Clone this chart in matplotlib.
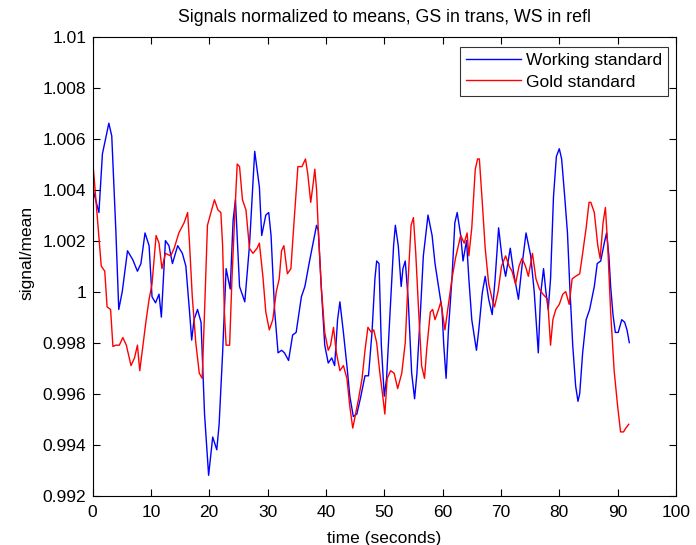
import numpy as np
import matplotlib
matplotlib.use("Agg")
import matplotlib.pyplot as plt
from matplotlib.ticker import FuncFormatter

# working standard (reflection)
ws_time = [0.2, 1.1, 1.7, 2.8, 3.3, 4.0, 4.5, 5.1, 6.0, 6.9, 7.7, 8.3, 9.0, 9.7, 10.2, 10.8,
           11.4, 11.8, 12.5, 13.1, 13.7, 14.6, 15.4, 16.0, 16.6, 17.0, 17.4, 18.0, 18.6, 19.2,
           19.9, 20.6, 21.3, 21.7, 22.3, 22.9, 23.6, 24.1, 24.5, 25.2, 26.1, 26.9, 27.8, 28.6,
           29.0, 29.7, 30.2, 30.6, 31.2, 31.8, 32.4, 32.9, 33.6, 34.3, 34.9, 35.8, 36.4, 37.2,
           37.8, 38.4, 38.7, 39.2, 39.8, 40.4, 41.0, 41.5, 42.0, 42.4, 43.0, 43.6, 44.1, 44.7,
           45.3, 45.9, 46.7, 47.3, 47.9, 48.4, 48.7, 49.1, 49.5, 50.0, 50.4, 51.0, 51.6, 51.9,
           52.4, 52.9, 53.2, 53.6, 54.1, 54.7, 55.2, 55.6, 56.2, 56.7, 57.5, 58.2, 58.7, 59.3,
           59.9, 60.2, 60.6, 61.0, 61.6, 62.1, 62.5, 63.1, 63.5, 64.1, 64.5, 65.0, 65.8, 66.2,
           66.8, 67.3, 67.9, 68.5, 69.0, 69.6, 70.2, 70.8, 71.6, 72.2, 73.0, 73.7, 74.3, 75.1,
           75.7, 76.4, 76.8, 77.3, 77.7, 78.1, 78.5, 79.0, 79.5, 80.0, 80.4, 80.9, 81.4, 81.8,
           82.3, 82.8, 83.2, 83.5, 84.0, 84.6, 85.2, 86.0, 86.5, 87.1, 87.7, 88.1, 88.5, 88.8,
           89.2, 89.6, 90.1, 90.7, 91.2, 91.6, 92.0]
ws_value = [1.0039, 1.0031, 1.0054, 1.0066, 1.0061, 1.0024, 0.9993, 1.0000, 1.0016, 1.00125,
            1.0008, 1.0011, 1.0023, 1.0018, 0.9998, 0.99956, 0.9999, 0.9990, 1.0020, 1.0018,
            1.0011, 1.0018, 1.0015, 1.0010, 0.9993, 0.9981, 0.9989, 0.9993, 0.9988, 0.9952,
            0.9928, 0.9943, 0.9938, 0.9948, 0.9976, 1.0009, 1.0001, 1.0028, 1.0036, 1.0002,
            0.9996, 1.0018, 1.0055, 1.0041, 1.0022, 1.0030, 1.0031, 1.0022, 0.9993, 0.9976,
            0.9977, 0.9976, 0.9973, 0.9983, 0.9984, 0.9998, 1.0002, 1.0012, 1.0019, 1.0026,
            1.0024, 1.0002, 0.9979, 0.9972, 0.9974, 0.9971, 0.9989, 0.9996, 0.9984, 0.9971,
            0.9959, 0.9951, 0.9952, 0.9958, 0.9967, 0.9967, 0.9984, 1.0005, 1.0012, 1.0011,
            0.9979, 0.9959, 0.9966, 0.9992, 1.0018, 1.0026, 1.0018, 1.0002, 1.0009, 1.0012,
            0.9997, 0.9968, 0.9958, 0.9968, 0.9992, 1.0014, 1.0030, 1.0022, 1.0011, 1.0002,
            0.9993, 0.9979, 0.9966, 0.9985, 1.0005, 1.0027, 1.0031, 1.0022, 1.0012, 1.0020,
            1.0005, 0.9989, 0.9977, 0.9985, 0.99995, 1.0006, 0.9997, 0.9991, 1.0005, 1.0025,
            1.0013, 1.0006, 1.0017, 1.0007, 0.9997, 1.0012, 1.0023, 1.0014, 1.0000, 0.9976,
            0.9999, 1.0009, 1.0000, 0.9993, 1.0005, 1.0037, 1.0053, 1.0056, 1.0052, 1.0038,
            1.0023, 1.0002, 0.9979, 0.9963, 0.9957, 0.9960, 0.9976, 0.9989, 0.9993, 1.0002,
            1.0011, 1.0012, 1.0019, 1.0023, 1.0014, 1.0002, 0.9991, 0.9984, 0.9984, 0.9989,
            0.9988, 0.9985, 0.9980]

# gold standard (transmission)
gs_time = [0.0, 0.3, 1.0, 1.5, 2.1, 2.5, 3.1, 3.5, 4.0, 4.6, 5.2, 5.8, 6.6, 7.2, 7.7, 8.1,
           8.6, 9.2, 9.7, 10.2, 10.9, 11.4, 11.9, 12.5, 13.4, 14.0, 14.8, 15.7, 16.3, 16.6,
           17.1, 17.7, 18.3, 18.8, 19.2, 19.7, 20.3, 20.9, 21.5, 22.0, 22.3, 22.6, 22.9, 23.5,
           23.9, 24.4, 24.8, 25.2, 25.7, 26.3, 26.9, 27.5, 28.2, 28.6, 29.2, 29.7, 30.3, 30.9,
           31.5, 32.0, 32.4, 32.8, 33.4, 34.0, 34.5, 35.2, 35.9, 36.5, 36.9, 37.4, 37.8, 38.1,
           38.4, 38.7, 39.2, 39.8, 40.4, 40.8, 41.3, 41.8, 42.4, 43.0, 43.6, 44.1, 44.6, 45.0,
           45.6, 46.2, 46.7, 47.2, 47.8, 48.2, 48.7, 49.2, 49.8, 50.1, 50.5, 51.1, 51.7, 52.3,
           53.0, 53.6, 54.1, 54.6, 55.0, 55.4, 55.9, 56.4, 56.9, 57.3, 57.9, 58.3, 58.7, 59.3,
           59.7, 60.4, 61.0, 61.6, 62.2, 63.1, 63.7, 64.2, 64.5, 65.0, 65.6, 66.0, 66.3, 66.8,
           67.3, 67.9, 68.5, 68.9, 69.5, 70.1, 70.8, 71.4, 71.9, 72.5, 73.1, 73.6, 74.2, 74.7,
           75.4, 76.0, 76.6, 77.2, 78.0, 78.5, 78.9, 79.4, 80.0, 80.6, 81.1, 81.7, 82.2, 82.8,
           83.5, 84.0, 84.6, 85.1, 85.4, 86.0, 86.6, 87.0, 87.5, 87.9, 88.3, 88.8, 89.4, 90.0,
           90.5, 91.0, 91.4, 91.9]
gs_value = [1.0052, 1.0044, 1.0024, 1.0010, 1.0008, 0.9994, 0.9993, 0.99785, 0.9979, 0.9979,
            0.9982, 0.9979, 0.9971, 0.9974, 0.9979, 0.9969, 0.9978, 0.9989, 0.9997, 1.0003,
            1.0022, 1.0019, 1.0009, 1.0015, 1.0014, 1.0017, 1.0023, 1.0027, 1.0031, 1.0020,
            0.9998, 0.9980, 0.9968, 0.9966, 0.9992, 1.0026, 1.0031, 1.0036, 1.0032, 1.0031,
            1.0018, 0.9992, 0.9979, 0.9979, 1.0005, 1.0031, 1.0050, 1.0049, 1.0036, 1.0032,
            1.0017, 1.0015, 1.0017, 1.0019, 1.0006, 0.9992, 0.9985, 0.9989, 1.0000, 1.0005,
            1.0016, 1.0018, 1.0007, 1.0009, 1.0026, 1.0049, 1.0049, 1.0052, 1.0046, 1.0035,
            1.0042, 1.0048, 1.0040, 1.0024, 1.0002, 0.9984, 0.9977, 0.9979, 0.9986, 0.9976,
            0.9969, 0.9971, 0.9966, 0.9955, 0.99465, 0.9951, 0.9958, 0.9966, 0.9977, 0.9986,
            0.9984, 0.9985, 0.9980, 0.9969, 0.9958, 0.9952, 0.9966, 0.9969, 0.9968, 0.9962,
            0.9968, 0.9980, 1.0005, 1.0026, 1.0029, 1.0015, 0.9992, 0.9971, 0.9966, 0.9978,
            0.9992, 0.9993, 0.9989, 0.9993, 0.9996, 0.9985, 0.9995, 1.0005, 1.0013, 1.0022,
            1.0019, 1.0023, 1.0014, 1.0025, 1.0048, 1.0052, 1.0052, 1.0035, 1.0017, 1.0003,
            0.9997, 0.9994, 1.0000, 1.0010, 1.0014, 1.0010, 1.0008, 1.0003, 1.0010, 1.0013,
            1.0010, 1.0006, 1.0015, 1.0005, 1.0001, 0.9999, 0.9997, 0.9979, 0.9989, 0.9993,
            0.9995, 0.9999, 1.0000, 0.9995, 1.0005, 1.0006, 1.0007, 1.0015, 1.0025, 1.0035,
            1.0035, 1.0031, 1.0018, 1.0013, 1.0027, 1.0033, 1.0018, 0.9992, 0.9969, 0.9955,
            0.9945, 0.9945, 0.99465, 0.9948]

x_ticks = [0, 10, 20, 30, 40, 50, 60, 70, 80, 90, 100]
y_ticks = [0.992, 0.994, 0.996, 0.998, 1.0, 1.002, 1.004, 1.006, 1.008, 1.01]

plt.rcParams['font.family'] = ['Liberation Sans', 'DejaVu Sans']

fig = plt.figure(figsize=(6.96, 5.45), dpi=100)
ax = fig.add_axes([92.5 / 696, 1 - 495.7 / 545, 583.5 / 696, 459.2 / 545])

ax.plot(ws_time, ws_value, color=(0, 0, 1), lw=1.0, label='Working standard')
ax.plot(gs_time, gs_value, color=(1, 0, 0), lw=1.0, label='Gold standard')

ax.set_xlim(0, 100)
ax.set_ylim(0.992, 1.01)
ax.set_xticks(x_ticks)
ax.set_yticks(y_ticks)
ax.yaxis.set_major_formatter(FuncFormatter(lambda v, p: '%g' % round(v, 4)))
ax.tick_params(direction='in', length=5, width=0.8, top=True, right=True, labelsize=12.5)
ax.tick_params(axis='x', pad=6.8)
ax.tick_params(axis='y', pad=4.5)
for s in ax.spines.values():
    s.set_linewidth(0.8)

ax.set_title('Signals normalized to means, GS in trans, WS in refl', fontsize=12.8, pad=10.5)
ax.set_xlabel('time (seconds)', fontsize=12.5, labelpad=8)
ax.set_ylabel('signal/mean', fontsize=12.5)
ax.yaxis.set_label_coords(-0.100, 0.529)

leg = ax.legend(loc='upper right', bbox_to_anchor=(0.9863, 0.977), borderaxespad=0,
                fontsize=12.5, frameon=True, fancybox=False, edgecolor='black',
                handlelength=3.2, handletextpad=0.25, borderpad=0.35, labelspacing=0.35)
leg.get_frame().set_linewidth(0.8)

fig.savefig('out.png', dpi=100)
